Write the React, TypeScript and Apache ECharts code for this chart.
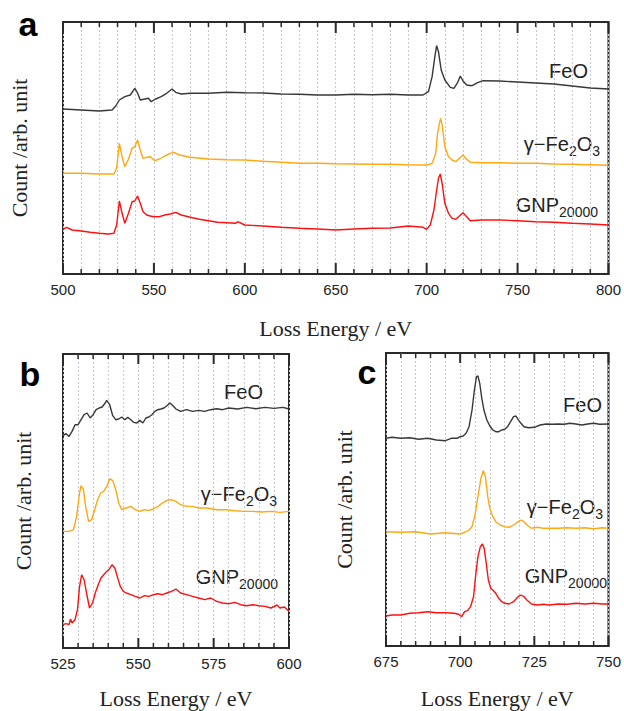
import React, { useEffect, useRef } from "react";
import * as echarts from "echarts";

// ---- Panel a (500–800 eV), counts in arbitrary units ----
const aFeO: [number, number][] = [
  [500, 165], [510, 164], [520, 163], [527, 164], [529, 168], [531, 174], [534, 177.3], [537, 179],
  [539.5, 185.7], [541, 181], [542.5, 174], [545, 175], [547, 175.7], [548.5, 172.3], [551, 175],
  [554, 177.3], [557, 180.7], [560, 185], [562, 181.7], [565, 180], [570, 180.7], [580, 180.7],
  [590, 181.7], [600, 181.3], [610, 181], [620, 180], [630, 179.7], [640, 179], [650, 179],
  [660, 179.7], [670, 179.3], [680, 179.7], [690, 179], [698, 179], [701, 182.3], [703, 197.3],
  [704.5, 217.3], [705.5, 228.3], [706.5, 222.3], [708, 204], [710, 194], [713, 186.7], [715, 185.7],
  [717, 191.3], [718.5, 198], [720, 193], [722, 189], [725, 188.3], [728, 191.3], [731, 193.3],
  [740, 193], [750, 192], [760, 191], [770, 190], [780, 188], [790, 186], [800, 185],
];
const aFe2O3: [number, number][] = [
  [500, 100.7], [510, 100.7], [520, 100], [528, 100], [529.5, 105.7], [531, 130.7], [532.5, 117.3],
  [534, 107.3], [536, 114.7], [538, 125.7], [539.5, 127.3], [541, 134], [542.5, 124], [544, 115.7],
  [546, 116.7], [548, 117.3], [550.5, 113.3], [553, 115], [556, 118], [559, 120.7], [561, 121.7],
  [564, 119], [570, 116.7], [580, 115], [590, 114.3], [600, 114], [610, 112.7], [620, 111.7],
  [630, 110.7], [640, 110.7], [650, 110.3], [660, 110], [670, 109.7], [680, 109.7], [690, 109.3],
  [700, 109], [703, 110.7], [705, 120.7], [706, 140.7], [707, 150.7], [707.7, 155.7], [708.5, 149],
  [710, 127.3], [712, 117.3], [714, 114], [716, 112.3], [718, 115.7], [720, 119], [722, 114.7],
  [724, 111.7], [730, 111.3], [740, 111.3], [750, 110.7], [760, 110.7], [770, 110], [780, 109.7],
  [790, 109.3], [800, 108.7],
];
const aGNP: [number, number][] = [
  [500, 44.7], [502, 46.7], [505, 44], [510, 43], [515, 41.7], [520, 40.7], [525, 40], [528, 40.7],
  [529.5, 49], [531, 73], [532.5, 60.7], [534, 50.7], [536, 60.7], [538, 72.3], [539.5, 73], [541, 78],
  [542.5, 70.7], [544, 62.3], [546, 59], [548, 58], [550, 57.3], [553, 57.3], [556, 59], [559, 60],
  [562, 61.7], [565, 59], [570, 56.7], [575, 54.7], [580, 53.3], [585, 51.7], [590, 51.3], [595, 50.7],
  [596, 52.3], [600, 49], [610, 48], [620, 46.7], [630, 45.7], [640, 45], [650, 44], [660, 45],
  [670, 45.7], [680, 46], [690, 48], [698, 46.7], [700, 44.7], [702, 49], [704, 64], [705.5, 84],
  [706.5, 95.7], [707.5, 100], [708.5, 90.7], [710, 70.7], [712, 60.7], [714, 55.7], [716, 54.7],
  [718, 58], [720, 61.3], [722, 57.3], [724, 53.3], [730, 54], [740, 54], [750, 53.3], [760, 52.3],
  [770, 51.7], [780, 50.7], [790, 50], [800, 49],
];

// ---- Panel b (525–600 eV) ----
const bFeO: [number, number][] = [
  [525, 212.3], [526, 214.3], [527, 211.6], [528, 216.6], [529, 223.3], [530, 223.3], [531, 228.3],
  [532, 233.3], [533, 235], [534, 230], [535, 233.3], [536, 238.3], [537, 240], [538, 241], [539, 245],
  [539.5, 247.6], [540.5, 243.3], [541.5, 232.3], [542.5, 228.3], [543.5, 229], [544.5, 231],
  [545.5, 228.3], [546.5, 230.6], [547.5, 228.3], [548.5, 225.6], [549.5, 225], [550.5, 227.6],
  [551.5, 225], [552.5, 230], [553.5, 231], [554.5, 233.3], [555.5, 236.6], [556.5, 238.3],
  [557.5, 239], [558.5, 240], [559.5, 242.3], [560.5, 245], [561.5, 242.3], [562.5, 239],
  [564, 236.6], [566, 238.3], [568, 236.6], [570, 237.6], [572, 236.6], [574, 238.3], [576, 239.3],
  [578, 238.3], [580, 240], [583, 239], [586, 240.6], [589, 239.3], [592, 240.6], [595, 239.6],
  [598, 240.6], [600, 239],
];
const bFe2O3: [number, number][] = [
  [525, 116.6], [527, 116.6], [528.5, 118.3], [529.5, 131.6], [530.5, 155], [531, 162.3],
  [531.8, 158.3], [532.5, 141.6], [533.5, 126.6], [534.5, 128.3], [535.5, 138.3], [536.5, 148.3],
  [537.5, 155], [538.5, 156.6], [539.5, 161.6], [540.5, 169], [541.5, 167.6], [542.5, 158.3],
  [543.5, 145], [544.5, 138.3], [546, 140], [547.5, 141.6], [549, 138.3], [550.5, 136.6], [552, 138.3],
  [553.5, 137.6], [555, 139], [556.5, 141.6], [558, 145], [559.5, 147.6], [561, 148.3], [562.5, 146.6],
  [564, 143.3], [566, 141.6], [568, 141.6], [570, 140], [573, 140], [576, 138.3], [579, 138.3],
  [582, 137.3], [585, 136.6], [588, 136.6], [591, 136], [594, 136.6], [597, 135.6], [600, 136.6],
];
const bGNP: [number, number][] = [
  [525, 23.3], [526, 24.3], [527, 23.3], [527.5, 29], [528, 25], [529, 28.3], [529.8, 38.3],
  [530.5, 61.6], [531.2, 73.3], [532, 68.3], [532.8, 55], [533.8, 40], [534.8, 45], [535.7, 55],
  [536.7, 63.3], [537.6, 70], [538.5, 73.3], [539.5, 76.6], [540.4, 79], [541.3, 83.3], [542.2, 80],
  [543, 71.6], [544, 61.6], [545, 56.6], [546, 55], [547.5, 53.3], [549, 51.6], [550.5, 50],
  [552, 52.3], [553.5, 51.6], [555, 53.3], [556.5, 54.3], [558, 53.3], [559.5, 55], [561, 56.6],
  [562.5, 59], [564, 55], [566, 53.3], [568, 51.6], [570, 50], [572, 48.3], [574, 50], [576, 46.6],
  [578, 45], [580, 44.3], [582, 45.6], [584, 43.3], [586, 42.3], [588, 43.3], [590, 42.3], [592, 41.6],
  [594, 40], [596, 43], [597, 40], [598.5, 41], [600, 36.6],
];

// ---- Panel c (675–750 eV) ----
const cFeO: [number, number][] = [
  [675, 207.7], [677, 208.7], [680, 207.7], [683, 208.3], [686, 206.7], [689, 207.7], [692, 206],
  [695, 205.3], [697, 207.7], [699, 207.7], [700, 209.3], [701, 210], [702, 212.7], [703, 219.3],
  [704, 236], [704.8, 256], [705.5, 269.3], [706, 270], [706.6, 262.7], [707.3, 247.7], [708, 236],
  [709, 226], [710, 220], [711, 216], [712, 214.3], [713, 214.3], [714, 216], [715, 216.7],
  [716, 219.3], [717, 224.3], [718, 229.3], [718.8, 230], [719.5, 226.7], [720.5, 222.7],
  [721.5, 219.3], [723, 218.3], [725, 218.7], [727, 221], [729, 222], [731, 221.7], [733, 222],
  [735, 221.7], [737, 222.7], [739, 222], [741, 221], [743, 222], [745, 222.7], [747, 221.7], [750, 222],
];
const cFe2O3: [number, number][] = [
  [675, 114.3], [680, 113.7], [685, 114.3], [690, 112], [695, 113.3], [700, 112], [702, 114.3],
  [703, 116], [704, 119.3], [705, 131], [706, 149.3], [707, 167.7], [707.8, 175.3], [708.5, 169.3],
  [709.3, 149.3], [710, 137.7], [711, 129.3], [712, 124.3], [713.5, 121], [715, 119.3], [716.5, 118.7],
  [718, 121], [719.5, 124.3], [720.5, 126], [721.5, 124.3], [722.5, 121], [724, 117.7], [726, 118.7],
  [728, 117.7], [730, 117.7], [733, 117.7], [736, 118.3], [739, 117.7], [742, 118.3], [745, 117.3],
  [748, 118.3], [750, 117.7],
];
const cGNP: [number, number][] = [
  [675, 30], [677, 31], [680, 31], [683, 32.7], [686, 33.3], [689, 34.3], [692, 33.3], [695, 33.3],
  [698, 32.7], [699.5, 31.7], [700.5, 29.3], [701.5, 34.3], [702.5, 35.3], [703.5, 39.3], [704.5, 49.3],
  [705.3, 72.7], [706, 89.3], [706.8, 99.3], [707.5, 102], [708.1, 97.7], [708.8, 82.7], [709.5, 66],
  [710.3, 57.7], [711, 56], [712, 52.7], [713, 47.7], [714, 44.3], [715, 42.7], [716.5, 42],
  [718, 44.3], [719.5, 49.3], [720.5, 51], [721.5, 49.3], [722.5, 46], [724, 42], [726, 41],
  [728, 41.7], [730, 41], [733, 42], [736, 41.7], [739, 42.7], [742, 42], [745, 42.7], [748, 42], [750, 42],
];

// ---- Tick positions (eV) drawn inside the frame, top and bottom ----
const aTicks = [500, 510, 520, 530, 540, 550, 560, 570, 580, 590, 600, 610, 620, 630, 640, 650, 660, 670, 680, 690, 700, 710, 720, 730, 740, 750, 760, 770, 780, 790, 800];
const bTicks = [525, 530, 535, 540, 545, 550, 555, 560, 565, 570, 575, 580, 585, 590, 595, 600];
const cTicks = [675, 680, 685, 690, 695, 700, 705, 710, 715, 720, 725, 730, 735, 740, 745, 750];

const panelLetters = ["a", "b", "c"];
const xTitle = "Loss Energy / eV";
const yTitle = "Count /arb. unit";

const SANS = "Liberation Sans";
const SERIF = "Liberation Serif";
const C_FEO = "#383838";
const C_FE2O3 = "#FFA812";
const C_GNP = "#FF1010";
const FRAME = "#2a2a2a";

function gridLine() {
  return { color: "#c6c6d6", width: 1, type: [2, 2] };
}
function bottomX(gridIndex: number, min: number, max: number, interval: number, nameGap: number) {
  return {
    type: "value", gridIndex, position: "bottom", min, max, interval,
    axisLine: { show: true, onZero: false, lineStyle: { color: FRAME, width: 2 } },
    axisTick: { show: false },
    minorTick: { show: false, splitNumber: 5 },
    splitLine: { show: true, lineStyle: gridLine() },
    minorSplitLine: { show: true, lineStyle: gridLine() },
    axisLabel: { show: true, margin: 8, color: "#222", fontSize: 15, fontFamily: SANS },
    name: xTitle, nameLocation: "middle", nameGap,
    nameTextStyle: { fontFamily: SERIF, fontSize: 22, color: "#222" },
  };
}
function leftY(gridIndex: number, max: number, nameGap: number) {
  return {
    type: "value", gridIndex, min: 0, max,
    axisLine: { show: false, onZero: false }, axisTick: { show: false },
    axisLabel: { show: false }, splitLine: { show: false },
    name: yTitle, nameLocation: "middle", nameRotate: 90, nameGap,
    nameTextStyle: { fontFamily: SERIF, fontSize: 22, color: "#222" },
  };
}
function line(data: [number, number][], color: string, axis: number) {
  return {
    type: "line", data: data.map((p) => [p[0], p[1]]), xAxisIndex: axis, yAxisIndex: axis, showSymbol: false,
    lineStyle: { color, width: 1.4 },
  };
}
// Inward tick marks at the top and bottom edges, placed through the x scale.
function tickSeries(axis: number, ticks: number[], majorStep: number, major: number, minor: number) {
  return {
    type: "custom", xAxisIndex: axis, yAxisIndex: axis, silent: true, clip: false, z: 10,
    data: ticks.map((t) => [t, t % majorStep === 0 ? 1 : 0]),
    encode: { x: 0, y: 1 },
    renderItem: (params: any, api: any) => {
      const cs = params.coordSys;
      const px = api.coord([api.value(0), 0])[0];
      const isMajor = api.value(1) === 1;
      const len = isMajor ? major : minor;
      const style = { stroke: FRAME, lineWidth: isMajor ? 2 : 1.5 };
      return {
        type: "group",
        children: [
          { type: "line", shape: { x1: px, y1: cs.y, x2: px, y2: cs.y + len }, style },
          { type: "line", shape: { x1: px, y1: cs.y + cs.height, x2: px, y2: cs.y + cs.height - len }, style },
        ],
      };
    },
  };
}
function label(kind: "FeO" | "Fe2O3" | "GNP", right: number, y: number) {
  const rich = {
    n: { fontSize: 20, lineHeight: 20, fontFamily: SANS, fill: "#222" },
    s: { fontSize: 14, lineHeight: 14, fontFamily: SANS, fill: "#222", padding: [14, 0, 0, 0] },
  };
  const text = kind === "FeO" ? "{n|FeO}" : kind === "Fe2O3" ? "{n|γ−Fe}{s|2}{n|O}{s|3}" : "{n|GNP}{s|20000}";
  return {
    type: "text", x: right, y, silent: true,
    style: { text, rich, align: "right", verticalAlign: "middle", fill: "#222", font: `20px ${SANS}` },
  };
}
function letter(t: string, x: number, y: number) {
  return {
    type: "text", x, y, silent: true,
    style: { text: t, fill: "#000", font: `bold 34px ${SANS}`, align: "center", verticalAlign: "middle" },
  };
}

function buildOption(): any {
  const gridBase = () => ({ show: true, borderColor: FRAME, borderWidth: 2 });
  return {
    animation: false,
    grid: [
      { ...gridBase(), left: 63, top: 22, width: 547, height: 252 },
      { ...gridBase(), left: 63, top: 354, width: 226, height: 294 },
      { ...gridBase(), left: 386, top: 353, width: 226, height: 293 },
    ],
    xAxis: [
      bottomX(0, 500, 800, 50, 43),
      bottomX(1, 525, 600, 25, 39),
      bottomX(2, 675, 750, 25, 41),
    ],
    yAxis: [leftY(0, 252, 33), leftY(1, 294, 29), leftY(2, 293, 31)],
    series: [
      line(aFeO, C_FEO, 0), line(aFe2O3, C_FE2O3, 0), line(aGNP, C_GNP, 0),
      line(bFeO, C_FEO, 1), line(bFe2O3, C_FE2O3, 1), line(bGNP, C_GNP, 1),
      line(cFeO, C_FEO, 2), line(cFe2O3, C_FE2O3, 2), line(cGNP, C_GNP, 2),
      tickSeries(0, aTicks, 50, 11, 5),
      tickSeries(1, bTicks, 25, 10, 5),
      tickSeries(2, cTicks, 25, 10, 5),
    ],
    graphic: [
      letter(panelLetters[0], 28, 24), letter(panelLetters[1], 30, 374), letter(panelLetters[2], 367, 372),
      label("FeO", 588, 71), label("Fe2O3", 600, 144), label("GNP", 598, 205),
      label("FeO", 263, 392), label("Fe2O3", 277, 494), label("GNP", 278, 577),
      label("FeO", 602, 405), label("Fe2O3", 603, 507), label("GNP", 607, 576),
    ],
  };
}

export default function App() {
  const ref = useRef<HTMLDivElement>(null);
  useEffect(() => {
    document.body.style.margin = "0";
    const chart = echarts.init(ref.current!, null, { renderer: "svg" });
    chart.setOption(buildOption());
    return () => chart.dispose();
  }, []);
  return <div ref={ref} style={{ width: 624, height: 711 }} />;
}
